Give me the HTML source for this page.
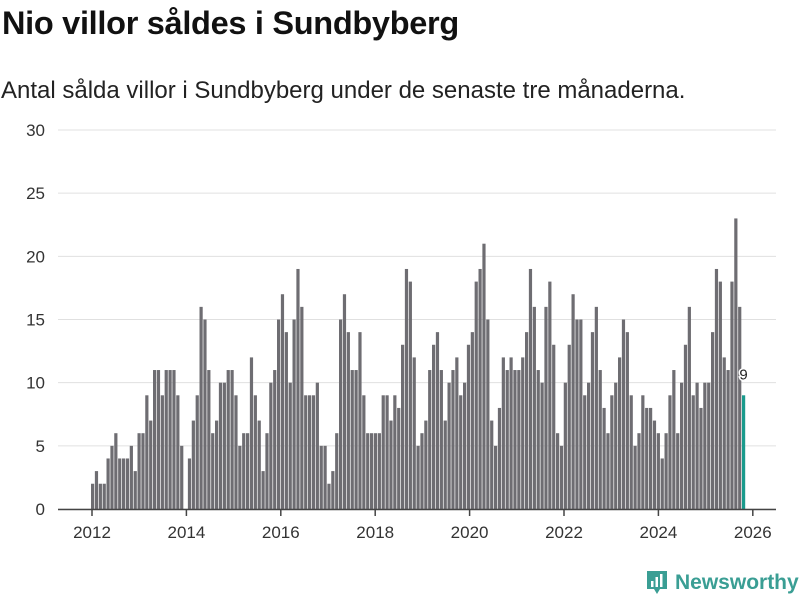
<!DOCTYPE html>
<html><head><meta charset="utf-8">
<style>
body{margin:0;width:800px;height:600px;background:#fff;font-family:"Liberation Sans",sans-serif;overflow:hidden;position:relative}
h1{position:absolute;left:2px;top:5px;margin:0;font-size:32.5px;font-weight:bold;color:#111;letter-spacing:-0.3px}
.sub{position:absolute;left:1px;top:77px;font-size:24px;color:#222}
svg{position:absolute;left:0;top:0}
</style></head><body>
<h1>Nio villor såldes i Sundbyberg</h1>
<div class="sub">Antal sålda villor i Sundbyberg under de senaste tre månaderna.</div>
<svg id="c" width="800" height="600"></svg>
<script>
const values=[2,3,2,2,4,5,6,4,4,4,5,3,
6,6,9,7,11,11,9,11,11,11,9,5,0,
4,7,9,16,15,11,6,7,10,10,11,11,
9,5,6,6,12,9,7,3,6,10,11,15,
17,14,10,15,19,16,9,9,9,10,5,5,
2,3,6,15,17,14,11,11,14,9,6,6,
6,6,9,9,7,9,8,13,19,18,12,5,
6,7,11,13,14,11,7,10,11,12,9,10,
13,14,18,19,21,15,7,5,8,12,11,12,
11,11,12,14,19,16,11,10,16,18,13,6,
5,10,13,17,15,15,9,10,14,16,11,8,
6,9,10,12,15,14,9,5,6,9,8,8,
7,6,4,6,9,11,6,10,13,16,9,10,
8,10,10,14,19,18,12,11,18,23,16,9];
const yTicks=[0,5,10,15,20,25,30];
const xTicks=[2012,2014,2016,2018,2020,2022,2024,2026];
const svg=document.getElementById('c');
const NS='http://www.w3.org/2000/svg';
const y=v=>509-v*(379/30);
const xYear=yr=>92+(yr-2012)*47.2;
const step=(742-91)/(values.length-1);
const xBar=i=>91+i*step;
function mk(t,a){const e=document.createElementNS(NS,t);for(const k in a)e.setAttribute(k,a[k]);svg.appendChild(e);return e;}
yTicks.forEach(t=>{
 const g=mk('line',{x1:58,x2:776,y1:y(t),y2:y(t),stroke:'#e0e0e0','stroke-width':1});
 
 
 const l=mk('text',{x:45,y:y(t)+6,'text-anchor':'end','font-size':17,fill:'#333','font-family':'Liberation Sans, sans-serif'});
 l.textContent=t;
 
 
});
values.forEach((v,i)=>{
 const last=i===values.length-1;
 const r=mk('rect',{x:xBar(i),y:y(v),width:3.2,height:509-y(v),fill:last?'#1a9a8c':'#6e6d72'});
 
 
});
const li=values.length-1;
const lab=mk('text',{x:xBar(li)+1.6,y:y(values[li])-16,'text-anchor':'middle','font-size':15,fill:'#222','font-family':'Liberation Sans, sans-serif',stroke:'#fff','stroke-width':3,'paint-order':'stroke'});
lab.textContent=values[li];


const ax=mk('line',{x1:58,x2:776,y1:509.5,y2:509.5,stroke:'#444','stroke-width':1.5});


xTicks.forEach(t=>{
 const tk=mk('line',{x1:xYear(t),x2:xYear(t),y1:509,y2:516,stroke:'#444','stroke-width':1.5});
 
 
 const l=mk('text',{x:xYear(t),y:538,'text-anchor':'middle','font-size':17,fill:'#333','font-family':'Liberation Sans, sans-serif'});
 l.textContent=t;
 
 
});
</script>
<div style="position:absolute;left:645px;top:569px;display:flex;align-items:center">
<svg width="24" height="28" viewBox="0 0 24 28" style="position:static"><path d="M2 2h20v18h-7l-3 5-3-5H2z" fill="#3a9e94"/><rect x="6" y="12" width="2.5" height="6" fill="#fff"/><rect x="10.5" y="8" width="2.5" height="10" fill="#fff"/><rect x="15" y="5" width="2.5" height="13" fill="#fff"/></svg>
<span style="font-size:21px;font-weight:bold;color:#3a9e94;margin-left:6px">Newsworthy</span>
</div>
</body></html>
